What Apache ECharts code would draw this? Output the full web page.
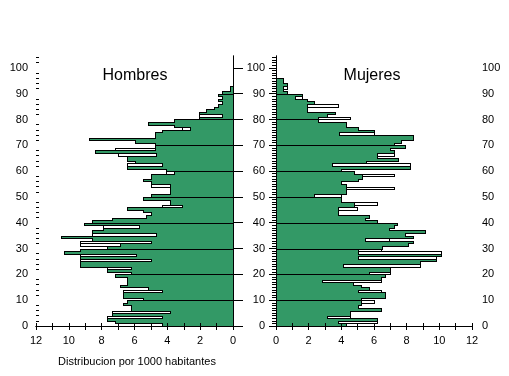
<!DOCTYPE html>
<html>
<head>
<meta charset="utf-8">
<script src="https://cdn.jsdelivr.net/npm/echarts@6/dist/echarts.min.js"></script>
<style>
  html, body { margin: 0; padding: 0; background: #fff; }
  #chart { width: 509px; height: 376px; }
</style>
</head>
<body>
<div id="chart"></div>
<script>
// una barra por año de edad (0, 1, 2, ...), valores por 1000 habitantes
const hombres = [
  4.3, 7.2, 7.7, 7.7, 7.4, 7.4, 6.2, 6.2, 6.7, 6.45,      // 0-9
  5.5, 6.7, 6.7, 6.7, 5.2, 6.9, 6.45, 6.45, 6.45, 7.2,    // 10-19
  6.2, 7.7, 7.7, 9.3, 9.3, 9.3, 9.3, 9.3, 10.3, 9.3,      // 20-29
  7.7, 9.3, 9.3, 8.6, 10.5, 8.6, 8.6, 7.9, 7.9, 9.1,      // 30-39
  8.6, 7.4, 5.3, 5.0, 5.5, 6.45, 4.3, 3.85, 3.85, 5.5,    // 40-49
  5.0, 3.85, 3.85, 3.85, 5.0, 5.0, 5.5, 5.0, 5.0, 4.1,    // 50-59
  4.1, 6.45, 6.45, 5.95, 6.45, 6.45, 7.0, 8.4, 7.2, 4.75, // 60-69
  4.75, 6.0, 8.8, 4.75, 4.75, 4.3, 3.1, 3.6, 5.2, 3.6,    // 70-79
  2.1, 2.1, 2.1, 1.65, 1.15, 0.9, 0.65, 0.9, 0.65, 0.9,   // 80-89
  0.65, 0.2, 0.2                                          // 90-92
];
// parte verde de cada barra (null = toda la barra es verde, si no el resto queda en blanco)
const hombresVerde = [
  null, null, null, 4.3, null, 3.85, null, null, null, null,
  null, null, null, 4.3, null, null, null, null, null, null,
  null, null, 6.2, null, null, 5.0, null, 5.9, null, null,
  null, 6.9, 5.0, null, null, 4.7, null, null, 5.7, null,
  null, null, null, null, null, null, 3.1, null, null, null,
  null, null, null, null, 3.85, null, null, null, null, 3.6,
  null, null, 4.3, null, null, null, 4.7, null, 4.75, null,
  null, null, null, null, null, null, 2.6, null, null, null,
  null, 0.65, null, null, null, null, null, null, null, null,
  null, null, null
];
const mujeres = [
  4.3, 6.2, 6.2, 4.5, 4.5, 4.5, 6.45, 5.0, 5.2, 6.0,      // 0-9
  5.2, 6.7, 6.7, 6.45, 5.7, 5.2, 4.7, 6.45, 6.45, 6.7,    // 10-19
  6.95, 6.95, 6.95, 8.8, 8.8, 9.8, 9.8, 10.1, 10.1, 6.45, // 20-29
  6.5, 8.1, 8.4, 6.9, 8.4, 7.9, 9.1, 6.9, 7.2, 7.4,       // 30-39
  6.2, 5.45, 5.7, 3.8, 3.8, 4.95, 4.75, 6.2, 4.0, 4.0,    // 40-49
  4.0, 4.3, 4.3, 7.2, 4.3, 4.0, 5.0, 5.25, 7.2, 4.75,     // 50-59
  4.0, 8.2, 8.2, 5.5, 7.45, 6.2, 7.2, 7.2, 6.95, 7.9,     // 60-69
  7.2, 7.65, 8.4, 8.4, 6.0, 6.0, 5.0, 4.3, 4.3, 2.6,      // 70-79
  4.5, 3.1, 3.6, 1.9, 1.9, 3.8, 2.35, 1.9, 1.6, 1.6,      // 80-89
  0.7, 0.4, 0.7, 0.7, 0.4, 0.4                            // 90-95
];
const mujeresVerde = [
  null, 3.8, null, 3.1, null, null, null, null, null, 5.2,
  null, null, null, 5.0, null, null, null, 2.8, null, null,
  5.7, null, null, 4.1, null, null, 5.0, null, 5.0, 5.0,
  null, null, null, 5.45, null, null, null, null, null, null,
  null, null, null, null, null, 3.8, null, 4.75, null, null,
  2.3, null, null, 4.3, null, null, null, null, 5.25, null,
  null, null, 3.4, null, null, null, 6.2, null, null, null,
  null, null, null, null, 3.85, null, null, null, null, null,
  2.6, null, null, null, null, 1.9, null, null, 1.15, null,
  null, null, 0.4, null, null, null
];

const etiquetasEdad = [0, 10, 20, 30, 40, 50, 60, 70, 80, 90, 100];
const etiquetasX = [0, 2, 4, 6, 8, 10, 12];

const EDAD_MAX = 104.6;
const VERDE = '#339966';
const FUENTE = '"Liberation Sans", Arial, sans-serif';

// marcas pequeñas: cada 2 años (eje izq. hombres) y cada año (eje der. mujeres)
const cadaDos = [];
const cadaUno = [];
for (let e = 0; e <= 104; e++) {
  if (e % 10 === 0) continue;
  cadaUno.push(e);
  if (e % 2 === 0) cadaDos.push(e);
}

function filas(valores, verdes) {
  return valores.map((v, i) => [
    i, v,
    verdes[i] == null ? v : verdes[i],
    i > 0 ? valores[i - 1] : 0,
    i === valores.length - 1 ? 1 : 0
  ]);
}

function dibujaFila(params, api) {
  const edad = api.value(0), v = api.value(1), verde = api.value(2);
  const prev = api.value(3), ultima = api.value(4);
  const px = val => Math.round(api.coord([val, edad])[0]);
  const yb = Math.round(api.coord([0, edad])[1]);
  const yt = Math.round(api.coord([0, edad + 1])[1]);
  const x0 = px(0), xv = px(v), xf = px(verde), xp = px(prev);
  const hijos = [];
  const negro = { stroke: '#000', lineWidth: 1 };
  const lin = (x1, y1, x2, y2) => hijos.push({ type: 'line', shape: { x1, y1, x2, y2 }, style: negro, z2: 10 });
  const hor = (a, b, y) => lin(Math.min(a, b), y, Math.max(a, b) + 1, y);

  hijos.push({
    type: 'rect',
    shape: { x: Math.min(x0, xf), y: yt, width: Math.abs(xf - x0), height: yb - yt },
    style: { fill: VERDE },
    z2: 1
  });
  // contorno escalonado
  lin(xv + 0.5, yt, xv + 0.5, yb + 1);
  if (xp !== xv) hor(xp, xv, yb + 0.5);
  if (ultima) hor(x0, xv, yt + 0.5);
  // hueco blanco
  if (xf !== xv) {
    lin(xf + 0.5, yt, xf + 0.5, yb + 1);
    hor(xf, xv, yt + 0.5);
    hor(xf, xv, yb + 0.5);
  }
  // linea de cada decada
  if (edad > 0 && edad % 10 === 0) hor(x0, xv, yb + 0.5);
  return { type: 'group', children: hijos };
}

const ejeNegro = { show: true, lineStyle: { color: '#000', width: 1 } };
const texto = { color: '#000', fontFamily: FUENTE, fontSize: 11 };

function ejeX(grid, pos, inverso, conEtiquetas) {
  return {
    gridIndex: grid, type: 'value', position: pos, inverse: inverso,
    min: 0, max: 12, interval: 1, z: 5,
    axisLine: ejeNegro,
    axisTick: { show: true, length: pos === 'bottom' ? 4 : 3, lineStyle: { color: '#000' } },
    axisLabel: conEtiquetas
      ? Object.assign({ customValues: etiquetasX, margin: 9 }, texto)
      : { show: false },
    splitLine: { show: false }
  };
}

function ejeY(grid, pos, opts) {
  return Object.assign({
    gridIndex: grid, type: 'value', position: pos, min: 0, max: EDAD_MAX, z: 5,
    axisLine: ejeNegro,
    axisLabel: { show: false },
    splitLine: { show: false }
  }, opts);
}

const chart = echarts.init(document.getElementById('chart'));
chart.setOption({
  animation: false,
  backgroundColor: '#fff',
  grid: [
    { left: 36, top: 56, width: 197, height: 270 },
    { left: 276, top: 56, width: 196, height: 270 },
    { left: 36, top: 56, width: 197, height: 270 },
    { left: 276, top: 56, width: 196, height: 270 }
  ],
  xAxis: [
    ejeX(0, 'bottom', true, true),
    ejeX(0, 'top', true, false),
    ejeX(1, 'bottom', false, true),
    ejeX(1, 'top', false, false),
    { gridIndex: 2, type: 'value', min: 0, max: 12, show: false },
    { gridIndex: 3, type: 'value', min: 0, max: 12, show: false }
  ],
  yAxis: [
    ejeY(0, 'left', {
      axisTick: { show: true, inside: true, length: 10, customValues: etiquetasEdad, lineStyle: { color: '#000' } },
      axisLabel: Object.assign({ customValues: etiquetasEdad, margin: 8 }, texto)
    }),
    ejeY(0, 'right', {
      axisTick: { show: true, length: 5, customValues: etiquetasEdad, lineStyle: { color: '#000' } }
    }),
    ejeY(1, 'left', {
      axisTick: { show: true, length: 6, customValues: etiquetasEdad, lineStyle: { color: '#000' } },
      axisLabel: Object.assign({ customValues: etiquetasEdad, margin: 11 }, texto)
    }),
    ejeY(1, 'right', {
      axisTick: { show: true, inside: true, length: 7, customValues: etiquetasEdad, lineStyle: { color: '#000' } },
      axisLabel: Object.assign({ customValues: etiquetasEdad, margin: 10 }, texto)
    }),
    ejeY(2, 'left', {
      axisLine: { show: false },
      axisTick: { show: true, inside: true, length: 3, customValues: cadaDos, lineStyle: { color: '#000' } }
    }),
    ejeY(3, 'right', {
      axisLine: { show: false },
      axisTick: { show: true, inside: true, length: 4, customValues: cadaUno, lineStyle: { color: '#000' } }
    })
  ],
  graphic: [
    { type: 'text', x: 135, y: 76, silent: true,
      style: { text: 'Hombres', font: '16px ' + FUENTE, fill: '#000', align: 'center', verticalAlign: 'middle' } },
    { type: 'text', x: 372, y: 76, silent: true,
      style: { text: 'Mujeres', font: '16px ' + FUENTE, fill: '#000', align: 'center', verticalAlign: 'middle' } },
    { type: 'text', x: 137, y: 362, silent: true,
      style: { text: 'Distribucion por 1000 habitantes', font: '11px ' + FUENTE, fill: '#000', align: 'center', verticalAlign: 'middle' } }
  ],
  series: [
    {
      type: 'custom', name: 'Hombres', xAxisIndex: 0, yAxisIndex: 0,
      encode: { x: 1, y: 0 }, silent: true,
      renderItem: dibujaFila,
      data: filas(hombres, hombresVerde)
    },
    {
      type: 'custom', name: 'Mujeres', xAxisIndex: 2, yAxisIndex: 2,
      encode: { x: 1, y: 0 }, silent: true,
      renderItem: dibujaFila,
      data: filas(mujeres, mujeresVerde)
    }
  ]
});
</script>
</body>
</html>
